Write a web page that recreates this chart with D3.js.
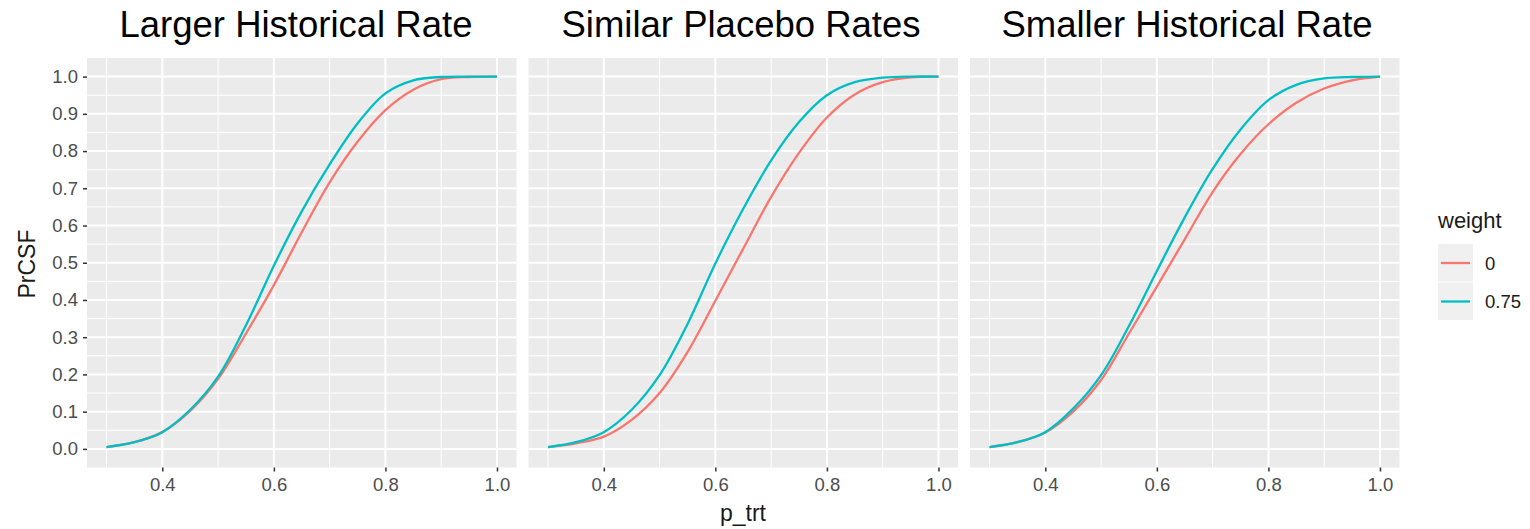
<!DOCTYPE html>
<html>
<head>
<meta charset="utf-8">
<script src="https://cdn.jsdelivr.net/npm/d3@7"></script>
<style>
  body { margin: 0; background: #fff; }
  text { font-family: "Liberation Sans", Arial, sans-serif; }
</style>
</head>
<body>
<svg id="svg" width="1530" height="529"></svg>
<script>
let svg = d3.select("#svg");

/* Data */
let pTrt = [0.30, 0.35, 0.40, 0.45, 0.50, 0.55, 0.60, 0.65, 0.70, 0.75, 0.80, 0.85, 0.90, 0.95, 1.00];

let panelTitles = ["Larger Historical Rate", "Similar Placebo Rates", "Smaller Historical Rate"];
let weights = ["0", "0.75"];
let weightColors = ["#F8766D", "#00BFC4"];

let largerW0   = [0.005, 0.018, 0.045, 0.102, 0.188, 0.310, 0.440, 0.582, 0.716, 0.825, 0.910, 0.965, 0.993, 0.999, 1.000];
let largerW75  = [0.005, 0.018, 0.045, 0.105, 0.194, 0.332, 0.492, 0.638, 0.764, 0.874, 0.955, 0.990, 0.999, 1.000, 1.000];
let similarW0  = [0.005, 0.015, 0.033, 0.078, 0.150, 0.260, 0.398, 0.538, 0.677, 0.795, 0.890, 0.952, 0.985, 0.998, 1.000];
let similarW75 = [0.005, 0.018, 0.045, 0.105, 0.198, 0.335, 0.498, 0.645, 0.775, 0.878, 0.950, 0.985, 0.997, 1.000, 1.000];
let smallerW0  = [0.005, 0.018, 0.044, 0.100, 0.185, 0.310, 0.436, 0.563, 0.690, 0.792, 0.872, 0.930, 0.968, 0.990, 1.000];
let smallerW75 = [0.005, 0.018, 0.045, 0.108, 0.198, 0.330, 0.478, 0.622, 0.752, 0.858, 0.937, 0.978, 0.995, 0.999, 1.000];

let panelSeries = [
  [largerW0, largerW75],
  [similarW0, similarW75],
  [smallerW0, smallerW75]
];

let xTicks = [0.4, 0.6, 0.8, 1.0];
let xMinor = [0.3, 0.5, 0.7, 0.9];
let yTicks = [0, 0.1, 0.2, 0.3, 0.4, 0.5, 0.6, 0.7, 0.8, 0.9, 1.0];
let yMinor = [0.05, 0.15, 0.25, 0.35, 0.45, 0.55, 0.65, 0.75, 0.85, 0.95];

/* Layout */
let panelW = 429.5;
let panelTop = 58;
let panelBottom = 467.5;
let panelLefts = [87, 528.5, 970];
let titleCenters = [296, 741, 1187];

let y = d3.scaleLinear().domain([-0.05, 1.05]).range([panelBottom, panelTop]);

panelLefts.forEach((left, i) => {
  let x = d3.scaleLinear().domain([0.265, 1.035]).range([left, left + panelW]);
  let g = svg.append("g");

  /* Panel background */
  g.append("rect")
    .attr("x", left)
    .attr("y", panelTop)
    .attr("width", panelW)
    .attr("height", panelBottom - panelTop)
    .attr("fill", "#EBEBEB");

  /* Minor grid */
  yMinor.forEach(v => {
    g.append("line")
      .attr("x1", left).attr("x2", left + panelW)
      .attr("y1", y(v)).attr("y2", y(v))
      .attr("stroke", "#fff").attr("stroke-width", 1);
  });
  xMinor.forEach(v => {
    g.append("line")
      .attr("x1", x(v)).attr("x2", x(v))
      .attr("y1", panelTop).attr("y2", panelBottom)
      .attr("stroke", "#fff").attr("stroke-width", 1);
  });

  /* Major grid */
  yTicks.forEach(v => {
    g.append("line")
      .attr("x1", left).attr("x2", left + panelW)
      .attr("y1", y(v)).attr("y2", y(v))
      .attr("stroke", "#fff").attr("stroke-width", 2);
  });
  xTicks.forEach(v => {
    g.append("line")
      .attr("x1", x(v)).attr("x2", x(v))
      .attr("y1", panelTop).attr("y2", panelBottom)
      .attr("stroke", "#fff").attr("stroke-width", 2);
  });

  /* Curves */
  let line = d3.line()
    .x((d, j) => x(pTrt[j]))
    .y(d => y(d))
    .curve(d3.curveCatmullRom.alpha(0.5));

  panelSeries[i].forEach((vals, k) => {
    g.append("path")
      .attr("d", line(vals))
      .attr("fill", "none")
      .attr("stroke", weightColors[k])
      .attr("stroke-width", 2.3);
  });

  /* X axis */
  let xAxis = g.append("g")
    .attr("transform", `translate(0,${panelBottom})`)
    .call(d3.axisBottom(x).tickValues(xTicks).tickFormat(d3.format(".1f")).tickSize(4).tickPadding(6));
  xAxis.select(".domain").remove();
  xAxis.selectAll("line").attr("stroke", "#333").attr("stroke-width", 1.5);
  xAxis.selectAll("text")
    .attr("fill", "#4D4D4D")
    .style("font-size", "18.5px")
    .style("font-family", "Liberation Sans, Arial, sans-serif");

  /* Panel title */
  svg.append("text")
    .attr("x", titleCenters[i])
    .attr("y", 37)
    .attr("text-anchor", "middle")
    .attr("fill", "#000")
    .style("font-size", "36.5px")
    .text(panelTitles[i]);
});

/* Y axis */
let yAxis = svg.append("g")
  .attr("transform", `translate(${panelLefts[0]},0)`)
  .call(d3.axisLeft(y).tickValues(yTicks).tickFormat(d3.format(".1f")).tickSize(4).tickPadding(5));
yAxis.select(".domain").remove();
yAxis.selectAll("line").attr("stroke", "#333").attr("stroke-width", 1.5);
yAxis.selectAll("text")
  .attr("fill", "#4D4D4D")
  .style("font-size", "18.5px")
  .style("font-family", "Liberation Sans, Arial, sans-serif");

/* Axis titles */
svg.append("text")
  .attr("x", 743)
  .attr("y", 521)
  .attr("text-anchor", "middle")
  .attr("fill", "#1a1a1a")
  .style("font-size", "23px")
  .text("p_trt");

svg.append("text")
  .attr("transform", "translate(35,264) rotate(-90)")
  .attr("text-anchor", "middle")
  .attr("fill", "#1a1a1a")
  .style("font-size", "23px")
  .text("PrCSF");

/* Legend */
let legend = svg.append("g");
legend.append("text")
  .attr("x", 1438)
  .attr("y", 228)
  .attr("fill", "#1a1a1a")
  .style("font-size", "22px")
  .text("weight");

weights.forEach((w, k) => {
  let top = 244 + k * 38.5;
  legend.append("rect")
    .attr("x", 1438)
    .attr("y", top)
    .attr("width", 35)
    .attr("height", 37.5)
    .attr("fill", "#F0F0F0");
  legend.append("line")
    .attr("x1", 1441).attr("x2", 1470)
    .attr("y1", top + 19).attr("y2", top + 19)
    .attr("stroke", weightColors[k])
    .attr("stroke-width", 2.3);
  legend.append("text")
    .attr("x", 1485)
    .attr("y", top + 25.5)
    .attr("fill", "#1a1a1a")
    .style("font-size", "18.5px")
    .text(w);
});
</script>
</body>
</html>
